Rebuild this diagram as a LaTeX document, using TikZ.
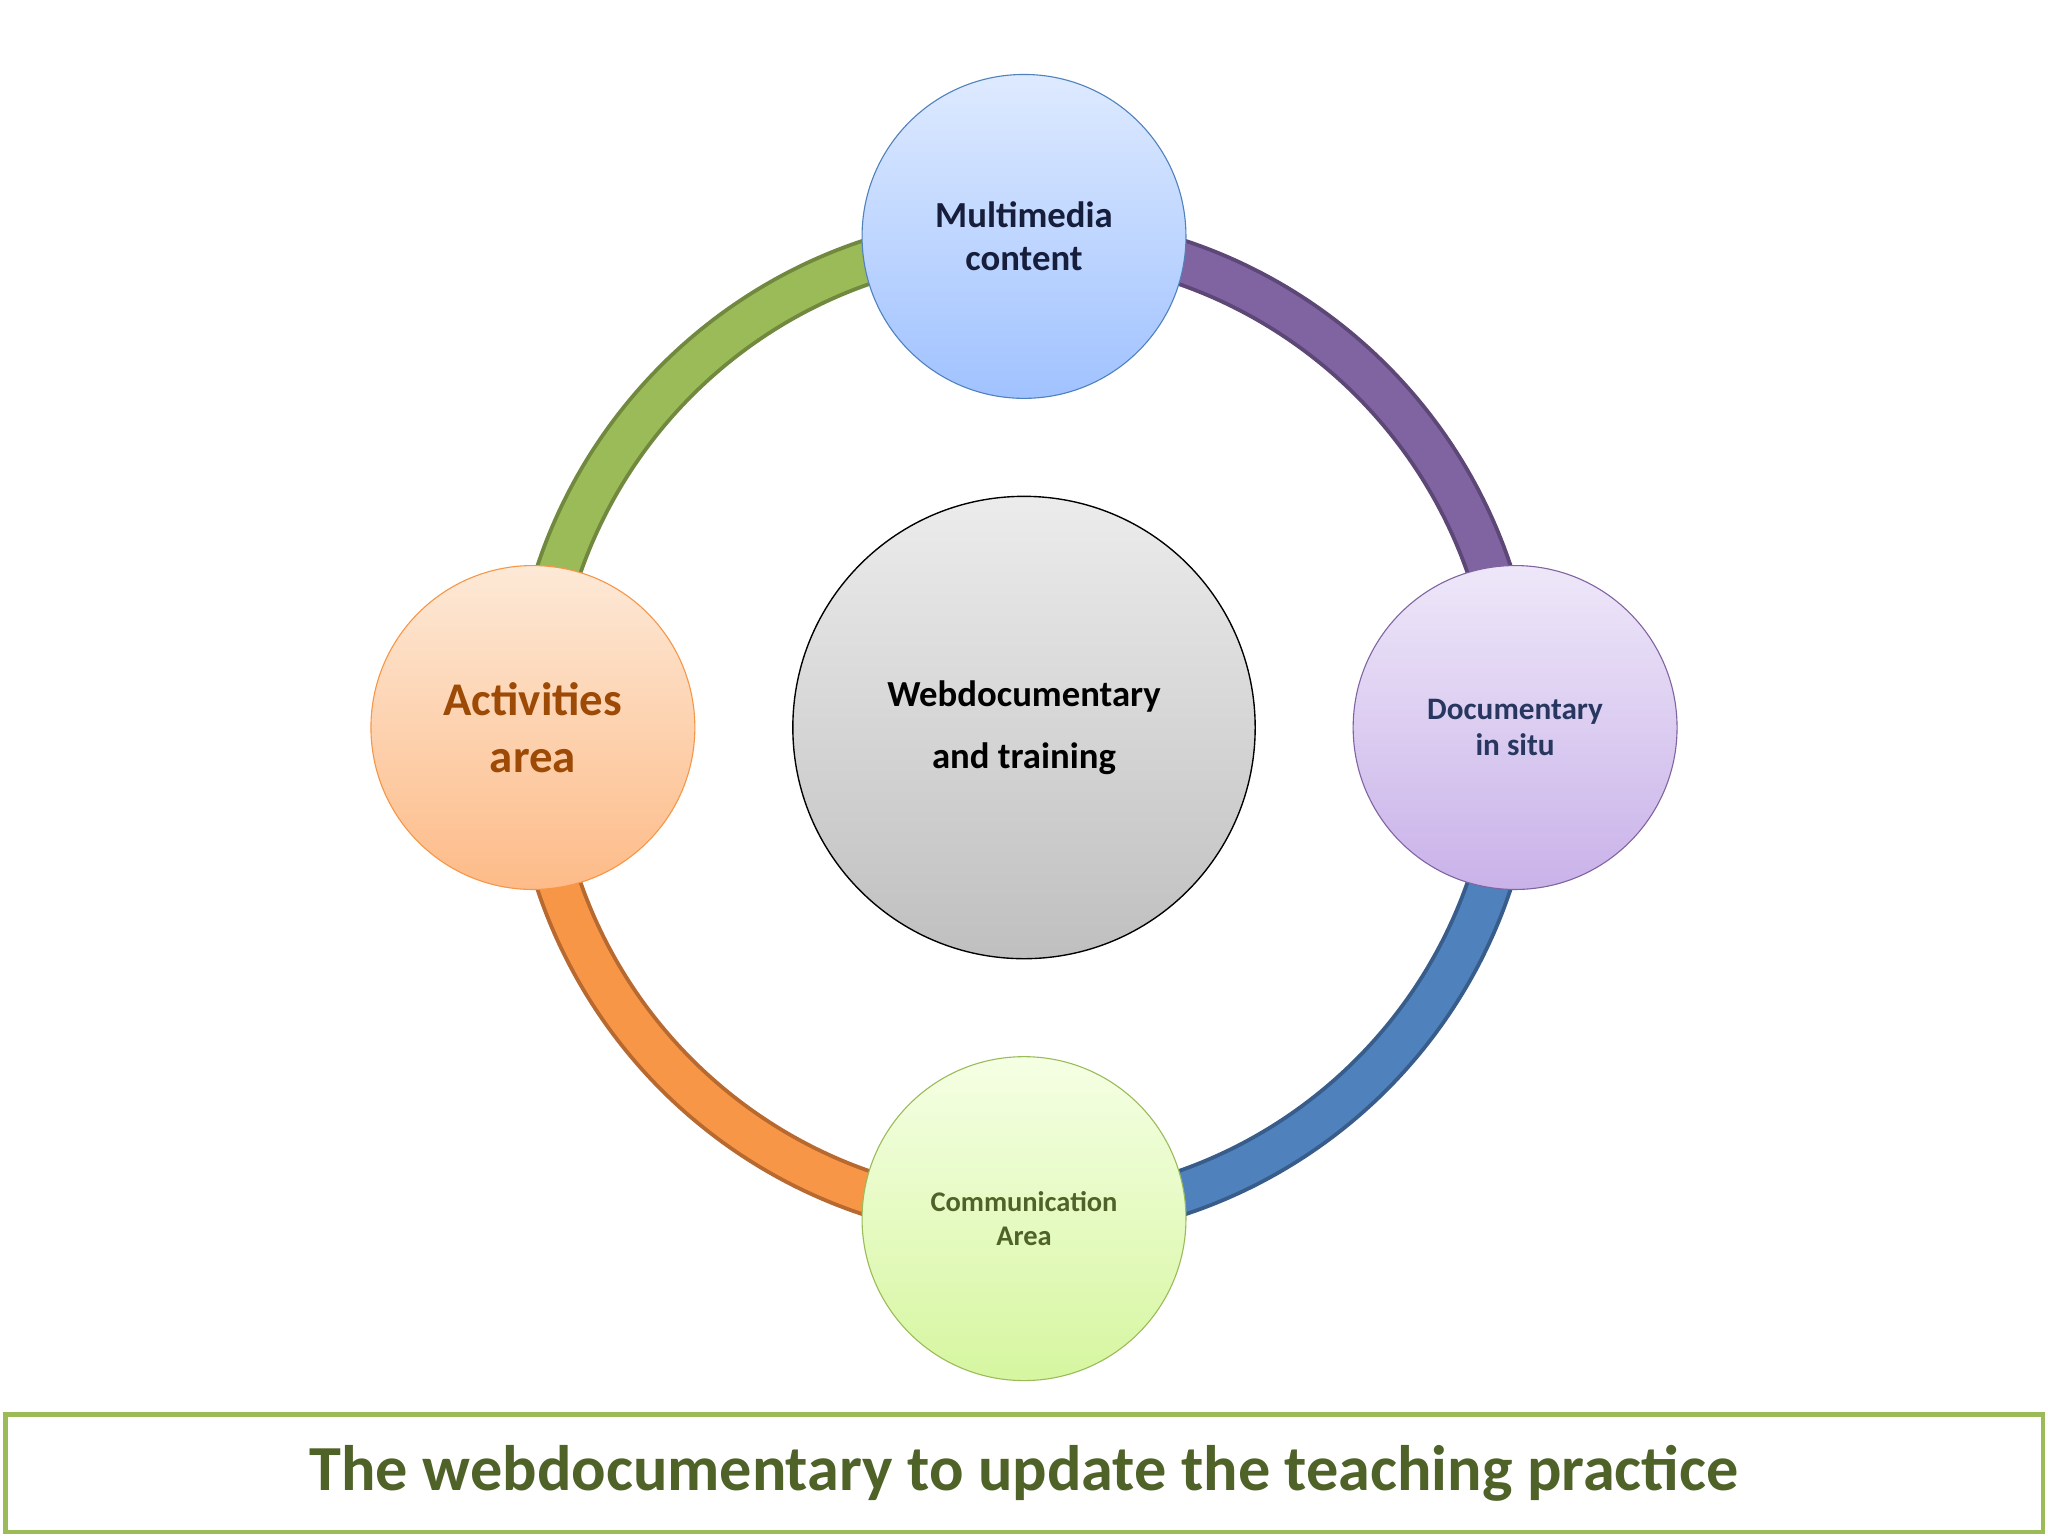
\documentclass[tikz,border=0pt]{standalone}
\usepackage{fontspec}
\setmainfont{Carlito}
\definecolor{orng}{HTML}{F79646}\definecolor{orngd}{HTML}{B7692F}
\definecolor{blu}{HTML}{4F81BD}\definecolor{blud}{HTML}{385D8A}
\definecolor{prp}{HTML}{8064A2}\definecolor{prpd}{HTML}{5C4776}
\definecolor{grn}{HTML}{9BBB59}\definecolor{grnd}{HTML}{71893F}
\definecolor{ttl}{HTML}{4F6228}
\begin{document}
\begin{tikzpicture}[x=0.05cm,y=-0.05cm,
  sat/.style={circle,minimum size=248*0.05cm,inner sep=0pt,align=center,font=\bfseries,line width=1.2pt},
  ringd/.style={line width=36*1.417pt},
  ringl/.style={line width=30*1.417pt}]
\useasboundingbox (0,0) rectangle (1568,1176);
\fill[white] (0,0) rectangle (1568,1176);
\coordinate (c) at (784,557);
% ring
\draw[ringd,orngd] (c) ++(180:376) arc[start angle=180,end angle=90,radius=376];
\draw[ringl,orng] (c) ++(180:376) arc[start angle=180,end angle=90,radius=376];
\draw[ringd,blud] (c) ++(90:376) arc[start angle=90,end angle=0,radius=376];
\draw[ringl,blu] (c) ++(90:376) arc[start angle=90,end angle=0,radius=376];
\draw[ringd,prpd] (c) ++(0:376) arc[start angle=0,end angle=-90,radius=376];
\draw[ringl,prp] (c) ++(0:376) arc[start angle=0,end angle=-90,radius=376];
\draw[ringd,grnd] (c) ++(-90:376) arc[start angle=-90,end angle=-180,radius=376];
\draw[ringl,grn] (c) ++(-90:376) arc[start angle=-90,end angle=-180,radius=376];
% center
\node[circle,minimum size=354*0.05cm,draw=black,line width=1.5pt,top color=gray!15,bottom color=gray!50,
  align=center,font=\bfseries\fontsize{40}{68}\selectfont] (ctr) at (c) {Webdocumentary\\and training};
\node[sat,draw=blu,top color={rgb,255:red,222;green,234;blue,255},bottom color={rgb,255:red,160;green,194;blue,255},
  text={rgb,255:red,22;green,30;blue,60},font=\bfseries\fontsize{40}{47}\selectfont] (top) at (784,181) {Multimedia\\content};
\node[sat,draw=orng,top color={rgb,255:red,253;green,233;blue,215},bottom color={rgb,255:red,253;green,187;blue,136},
  text={rgb,255:red,156;green,74;blue,6},font=\bfseries\fontsize{51}{62}\selectfont] (left) at (408,557) {Activities\\area};
\node[sat,draw=prp,top color={rgb,255:red,238;green,231;blue,249},bottom color={rgb,255:red,201;green,178;blue,233},
  text={rgb,255:red,40;green,55;blue,95},font=\bfseries\fontsize{34}{40}\selectfont] (right) at (1160,557) {Documentary\\in situ};
\node[sat,draw=grn,top color={rgb,255:red,245;green,255;blue,228},bottom color={rgb,255:red,214;green,246;blue,160},
  text=ttl,font=\bfseries\fontsize{31}{37}\selectfont] (bot) at (784,933) {Communication\\Area};
% title
\node[draw=grn,line width=5pt,minimum width=1560*0.05cm,minimum height=90*0.05cm,inner sep=0pt,
  text=ttl,font=\bfseries\fontsize{70}{80}\selectfont] (title) at (784,1128) {The webdocumentary to update the teaching practice};
\end{tikzpicture}
\end{document}
